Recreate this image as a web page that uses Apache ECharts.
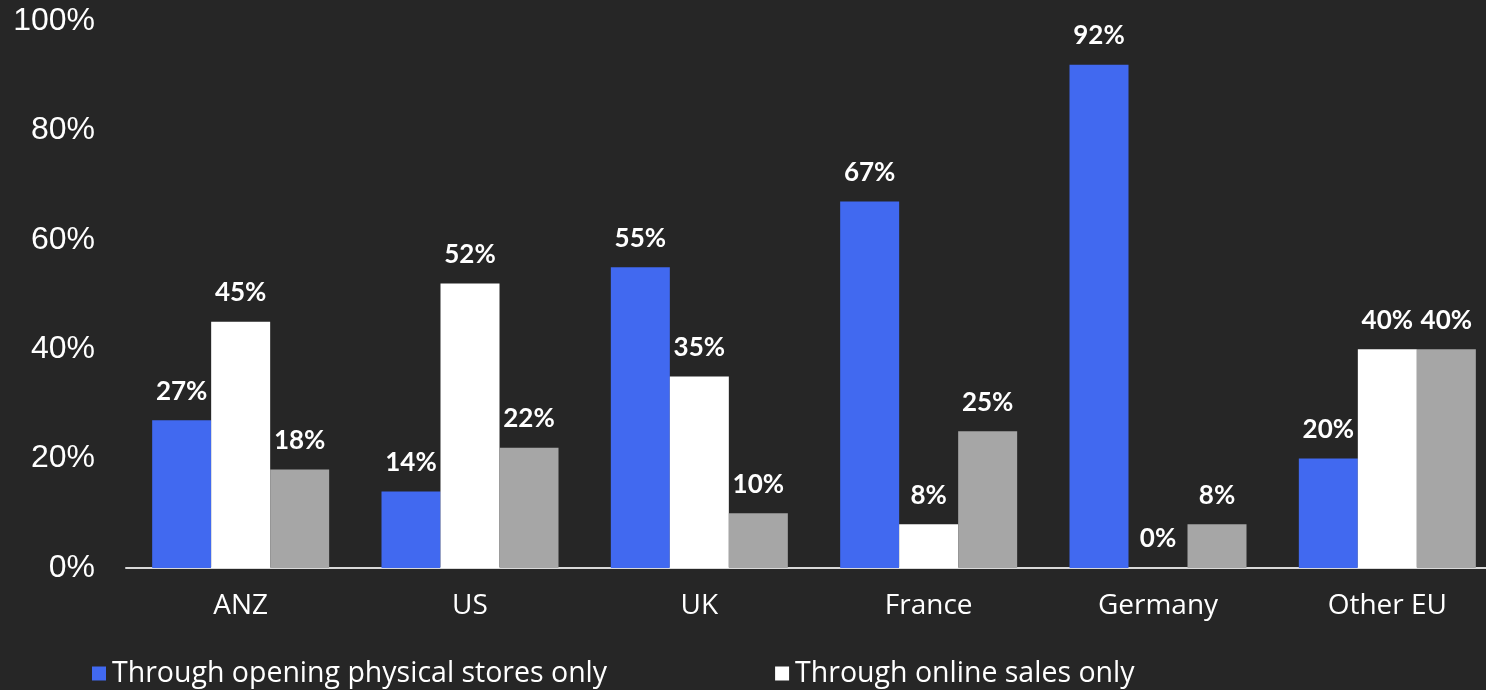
<!DOCTYPE html>
<html>
<head>
<meta charset="utf-8">
<script src="https://cdn.jsdelivr.net/npm/echarts@6/dist/echarts.min.js"></script>
<style>
html,body{margin:0;padding:0;background:#262626;}
#chart{width:1486px;height:690px;}
</style>
</head>
<body>
<div id="chart"></div>
<script>
const categories = ['ANZ', 'US', 'UK', 'France', 'Germany', 'Other EU'];
const physicalStores = [27, 14, 55, 67, 92, 20];
const onlineSales = [45, 52, 35, 8, 0, 40];
const bothChannels = [18, 22, 10, 25, 8, 40];
const seriesNames = ['Through opening physical stores only', 'Through online sales only', 'Through both'];
const yTicks = [0, 20, 40, 60, 80, 100];

const labelStyle = {
  show: true,
  position: 'top',
  distance: 16,
  color: '#ffffff',
  fontFamily: 'Lato',
  fontWeight: 'bold',
  fontSize: 26,
  formatter: p => p.value + '%'
};

const chart = echarts.init(document.getElementById('chart'), null, {renderer: 'canvas'});
chart.setOption({
  backgroundColor: '#262626',
  animation: false,
  grid: {left: 126, width: 1376, top: 21, bottom: 122, containLabel: false, outerBoundsMode: 'none'},
  legend: {
    data: seriesNames.slice(0, 2),
    left: 87,
    bottom: -3,
    icon: 'rect',
    itemWidth: 14,
    itemHeight: 14,
    itemGap: 168,
    textStyle: {color: '#ffffff', fontSize: 28.5, fontFamily: 'Open Sans', padding: [0, 0, 0, 1]}
  },
  xAxis: {
    type: 'category',
    data: categories,
    axisLine: {show: true, lineStyle: {color: '#d9d9d9', width: 2}},
    axisTick: {show: false},
    axisLabel: {color: '#ffffff', fontSize: 28, fontFamily: 'Open Sans', margin: 24}
  },
  yAxis: {
    type: 'value',
    min: yTicks[0],
    max: yTicks[yTicks.length - 1],
    interval: 20,
    axisLine: {show: false},
    axisTick: {show: false},
    splitLine: {show: false},
    axisLabel: {color: '#ffffff', fontSize: 32, fontFamily: 'Liberation Sans', margin: 31, formatter: '{value}%'}
  },
  series: [
    {name: seriesNames[0], type: 'bar', data: physicalStores, barWidth: 59, barGap: '0%', itemStyle: {color: '#4169f0'}, label: labelStyle},
    {name: seriesNames[1], type: 'bar', data: onlineSales, barWidth: 59, barGap: '0%', itemStyle: {color: '#ffffff'}, label: labelStyle},
    {name: seriesNames[2], type: 'bar', data: bothChannels, barWidth: 59, barGap: '0%', itemStyle: {color: '#a6a6a6'}, label: labelStyle}
  ]
});
</script>
</body>
</html>
